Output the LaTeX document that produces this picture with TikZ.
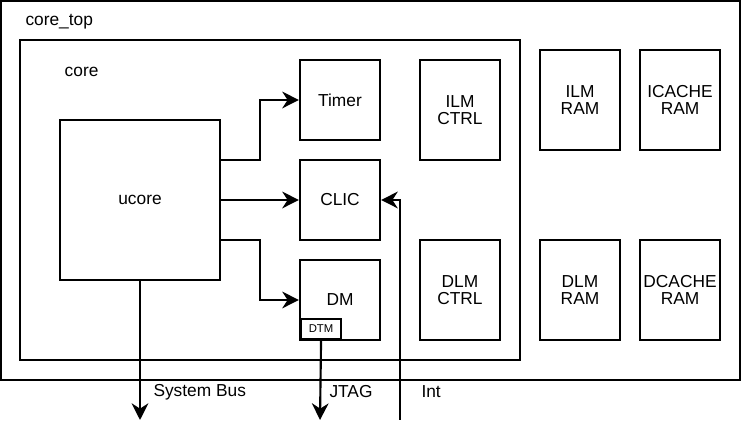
\documentclass[tikz,border=0pt]{standalone}
\usepackage{fontspec}
\setmainfont{Liberation Sans}
\usepackage{tikz}
\usetikzlibrary{arrows.meta}

\begin{document}
\begin{tikzpicture}[x=30pt,y=30pt,
  txt/.style={font=\fontsize{13}{13}\selectfont},
  blk/.style={draw,ultra thick,txt,align=center,inner sep=0pt,minimum width=60pt,minimum height=60pt},
  ram/.style={blk,minimum height=75pt},
  sig/.style={ultra thick,-{Stealth[length=12.5pt,width=12.5pt,inset=4pt]}}]
\useasboundingbox (0,0.05) rectangle (18.55,11);
\draw [ultra thick] (0.025,1.5) rectangle (18.5,10.975);
\draw [ultra thick] (0.5,2) rectangle (13,10);
\node [txt,anchor=west] (toplabel) at (0.52,10.45) {core\_top};
\node [txt,anchor=west] (corelabel) at (1.5,9.2) {core};
\node [blk,minimum width=120pt,minimum height=120pt] (ucore) at (3.5,6) {ucore};
\node [blk] (timer) at (8.5,8.5) {Timer};
\node [blk] (clic) at (8.5,6) {CLIC};
\node [blk] (dm) at (8.5,3.5) {DM};
\node [draw,ultra thick,font=\fontsize{8.5}{9}\selectfont,inner sep=0pt,minimum width=30pt,minimum height=15pt,anchor=south west] (dtm) at (7.5,2.5) {DTM};
\node [ram] (ilmctrl) at (11.5,8.25) {ILM\\CTRL};
\node [ram] (dlmctrl) at (11.5,3.75) {DLM\\CTRL};
\node [ram] (ilmram) at (14.5,8.5) {ILM\\RAM};
\node [ram] (icache) at (17,8.5) {ICACHE\\RAM};
\node [ram] (dlmram) at (14.5,3.75) {DLM\\RAM};
\node [ram] (dcache) at (17,3.75) {DCACHE\\RAM};
\coordinate (bus) at (3.5,0.5);
\coordinate (jtag) at (8,0.5);
\coordinate (int) at (10,0.5);
\draw [sig] (ucore.east |- 0,7) -- (6.5,7) |- (timer.west);
\draw [sig] (ucore.east) -- (clic.west);
\draw [sig] (ucore.east |- 0,5) -- (6.5,5) |- (dm.west);
\draw [sig] (ucore.south) -- (bus);
\draw [sig] (dtm.south) -- (jtag);
\draw [sig] (int) |- (clic.east);
\node [txt,anchor=west] (buslabel) at (3.72,1.2) {System Bus};
\node [txt,anchor=west] (jtaglabel) at (8.12,1.2) {JTAG};
\node [txt,anchor=west] (intlabel) at (10.42,1.2) {Int};

\end{tikzpicture}
\end{document}
